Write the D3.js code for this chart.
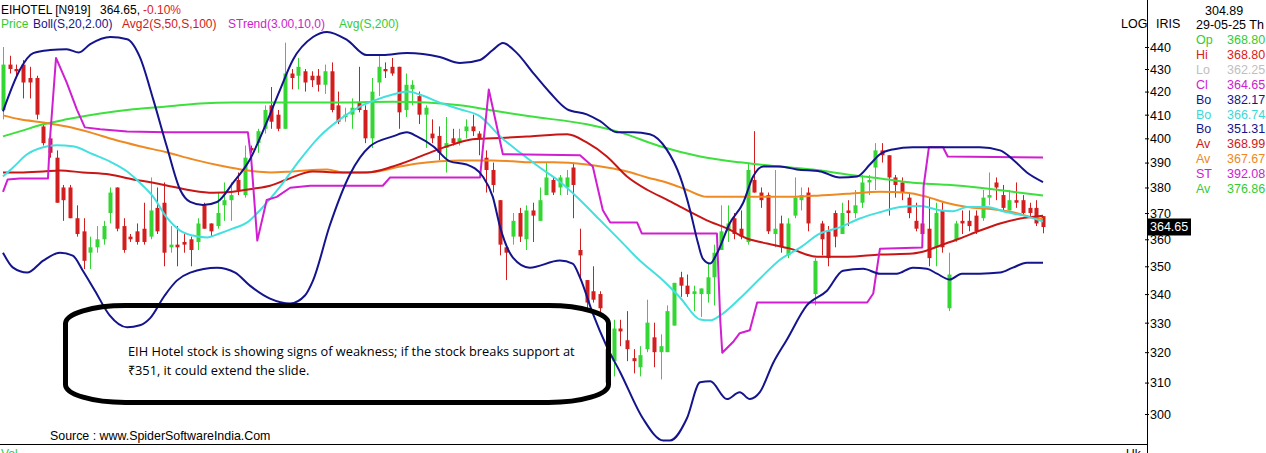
<!DOCTYPE html>
<meta charset="utf-8">
<style>
    body { margin: 0; background: #fff; }
    svg { display: block; }
    text { font-family: "Liberation Sans", Arial, sans-serif; }
</style>
<svg width="1266" height="453"></svg>
<script src="https://cdn.jsdelivr.net/npm/d3@7/dist/d3.min.js"></script>
<script>
    // daily candles, oldest first (last one is 29-05-25)
    var opens = [412, 432, 430, 432, 426, 426, 405, 400, 392, 380, 380, 368, 363, 355, 357, 360, 370, 380, 365, 361,
        363, 364, 361, 372, 374, 357, 358, 359, 360, 359, 373, 366, 365, 373, 375, 383, 377, 396, 398, 404,
        414, 410, 404, 428, 427, 429, 427, 427, 423, 429, 414, 409, 410, 415, 412, 400, 424, 430, 431, 431,
        412, 421, 418, 410, 402, 401, 396, 400, 398, 403, 405, 402, 392, 387, 375, 357, 361, 370, 360, 371,
        367, 377, 383, 380, 380, 388, 356, 345, 341, 340, 310, 317, 328, 324, 318, 315, 321, 325, 320, 320,
        329, 346, 343, 340, 340, 340, 346, 356, 363, 368, 364, 359, 383, 378, 377, 362, 366, 354, 369, 375,
        378, 340, 366, 363, 370, 362, 371, 370, 374, 382, 388, 395, 393, 384, 382, 376, 367, 366, 364, 357,
        371, 335, 360, 367, 367, 369, 368, 376, 382, 377, 371, 375, 375, 372, 372, 368.8];
    var highs = [440, 436, 432, 434, 431, 427, 406, 401, 395, 381, 381, 373, 368, 361, 365, 367, 380, 380, 368, 362,
        366, 374, 384, 380, 382, 365, 365, 362, 361, 368, 374, 366, 378, 382, 382, 386, 397, 397, 404, 414,
        422, 412, 442, 430, 435, 430, 429, 430, 432, 433, 420, 413, 417, 431, 414, 426, 436, 433, 435, 431,
        428, 425, 420, 414, 408, 405, 409, 404, 404, 408, 410, 403, 395, 390, 375, 358, 370, 372, 373, 374,
        380, 390, 384, 385, 387, 390, 364, 345, 350, 341, 321, 331, 331, 334, 321, 322, 338, 330, 326, 336,
        344, 348, 347, 343, 342, 351, 358, 373, 373, 370, 371, 390, 403, 380, 378, 387, 369, 368, 384, 380,
        380, 353, 367, 365, 371, 374, 375, 379, 385, 385, 398, 398, 393, 385, 384, 378, 374, 368, 376, 374,
        374, 355, 367, 371, 371, 371, 379, 386, 384, 381, 379, 382, 377, 374, 375, 368.8];
    var lows = [408, 428, 427, 417, 417, 408, 397, 392, 374, 367, 368, 361, 349, 349, 355, 358, 366, 363, 355, 359,
        358, 358, 360, 362, 350, 355, 350, 355, 350, 356, 364, 361, 364, 367, 367, 377, 376, 394, 394, 402,
        404, 403, 404, 421, 421, 420, 422, 420, 419, 411, 406, 407, 404, 411, 398, 396, 418, 426, 427, 404,
        409, 414, 406, 396, 398, 391, 386, 397, 397, 400, 401, 393, 378, 378, 354, 345, 358, 359, 356, 359,
        367, 377, 377, 377, 377, 368, 345, 335, 337, 333, 310, 312, 322, 317, 313, 312, 320, 315, 311, 320,
        329, 339, 339, 334, 332, 337, 336, 356, 359, 360, 360, 358, 378, 372, 362, 357, 355, 353, 368, 371,
        363, 336, 354, 350, 357, 362, 365, 368, 372, 377, 379, 390, 369, 376, 375, 368, 363, 361, 350, 350,
        355, 334, 359, 362, 363, 362, 367, 373, 375, 371, 371, 372, 369, 368, 365, 362.25];
    var closes = [432, 430, 429, 424, 424, 410, 398, 394, 374, 375, 368, 362, 352, 357, 360, 365, 378, 364, 356, 360,
        359, 359, 371, 363, 355, 358, 357, 358, 356, 366, 364, 363, 370, 375, 377, 379, 392, 395, 403, 412,
        407, 404, 428, 426, 431, 424, 425, 423, 429, 412, 407, 410, 413, 412, 400, 420, 431, 429, 428, 411,
        423, 423, 410, 413, 400, 394, 398, 398, 400, 405, 403, 400, 387, 381, 358, 355, 367, 361, 371, 369,
        375, 384, 378, 384, 384, 381, 354, 337, 338, 335, 321, 328, 327, 321, 317, 319, 330, 320, 322, 334,
        344, 343, 340, 341, 342, 346, 355, 363, 366, 362, 361, 387, 378, 375, 363, 364, 357, 366, 376, 377,
        366, 352, 360, 353, 361, 370, 370, 373, 382, 383, 395, 393, 384, 381, 378, 370, 364, 362, 353, 370,
        357, 347, 366, 366, 365, 363, 376, 377, 380, 372, 375, 374, 370, 370, 366, 364.65];

    // indicator lines as [candle index, price]
    var bollUpper = [[0, 411.4], [2.5, 429.6], [4.5, 437.2], [7, 438.6], [9.5, 439], [11.3, 437.5], [13, 441.3],
        [16, 444.6], [18.5, 443.6], [20.4, 435.4], [22.4, 416.5], [24.4, 396.7], [26.4, 379.1], [27.9, 374.3],
        [29.8, 373.1], [31.9, 374.3], [34.3, 381.9], [36.8, 391.3], [39.3, 406.7], [41.3, 420.9], [43.2, 434.1],
        [46.2, 444.6], [48.3, 447.0], [51.3, 443.2], [54.2, 436.3], [56.6, 436.3], [60.2, 437.2], [65.1, 435.4],
        [68.1, 432.7], [71.1, 434.1], [73.0, 438.6], [74.5, 441.8], [76.6, 437.2], [79.0, 428.3], [81.5, 419.6],
        [84.1, 412.3], [87.0, 410.1], [89.0, 407.2], [91.5, 402.5], [93.9, 402.5], [96.4, 401.7], [98.9, 395.4],
        [100.9, 384.4], [102.4, 371.1], [103.6, 358.4], [104.3, 352.8], [105.4, 351.0], [106.4, 354.7],
        [108.3, 366.0], [110.3, 373.9], [111.8, 384.4], [113.3, 388.4], [115.8, 388.4], [118.3, 387.2],
        [121.8, 386.4], [124.7, 384.0], [127.3, 384.4], [129.2, 389.2], [130.7, 393.4], [132.6, 395.4],
        [135.6, 396.3], [140.7, 396.3], [145.6, 396.3], [148.6, 395.0], [150.5, 391.3], [152.6, 386.0],
        [155, 382.17]];
    var bollMid = [[0, 384.4], [1.5, 388.0], [3.6, 393.4], [6.0, 396.3], [8.0, 397.1], [10.4, 396.7], [13.4, 393.4],
        [15.9, 390.5], [18.5, 386.4], [20.4, 381.9], [22.4, 376.3], [24.4, 368.3], [26.4, 363.3], [28.3, 361.4],
        [30.4, 360.7], [32.3, 362.2], [34.3, 364.1], [36.4, 366.4], [38.3, 371.1], [41.3, 380.3], [44.3, 391.3],
        [47.2, 400.8], [50.2, 408.0], [53.2, 413.5], [55.7, 416.5], [58.1, 418.7], [60.4, 420.0], [62.1, 418.7],
        [65.1, 415.2], [68.1, 412.3], [71.1, 409.3], [74.1, 400.8], [77.0, 394.2], [80.0, 388.0], [83.0, 382.3],
        [86.0, 375.1], [89.0, 367.2], [92.0, 359.5], [94.9, 352.1], [97.9, 345.9], [100.9, 338.8], [103.9, 331.1],
        [105.4, 330.8], [106.9, 332.5], [109.8, 338.4], [112.8, 345.5], [115.8, 352.4], [118.8, 356.9],
        [121.8, 362.2], [124.7, 364.5], [127.7, 367.9], [130.7, 370.3], [133.7, 372.3], [136.7, 372.7],
        [139.6, 371.1], [141.6, 370.7], [143.7, 372.3], [146.6, 372.3], [149.6, 370.3], [152.0, 369.1],
        [155, 366.74]];
    var bollLower = [[0, 355.0], [1.5, 349.5], [3.6, 347.7], [6.0, 352.1], [8.5, 355.0], [10.4, 353.9], [11.9, 348.4],
        [13.7, 341.2], [15.9, 332.5], [18.5, 328.4], [20.4, 329.1], [21.9, 331.5], [24.1, 339.5], [25.9, 344.8],
        [27.9, 347.7], [31.9, 349.5], [34.6, 347.7], [36.8, 343.0], [39.8, 338.4], [42.8, 336.7], [45.0, 339.5],
        [46.2, 344.8], [48.7, 365.2], [51.7, 385.2], [54.7, 396.7], [58.1, 400.8], [60.2, 402.5], [61.7, 400.8],
        [64.1, 396.7], [66.6, 390.5], [69.1, 389.2], [71.5, 384.4], [73.0, 376.3], [74.1, 364.5], [76.0, 353.2],
        [78.5, 349.5], [83.0, 352.1], [84.9, 351.0], [86.0, 345.9], [87.9, 333.2], [90.0, 321.8], [92.0, 313.3],
        [95.4, 298.5], [98.4, 291.8], [99.4, 291.8], [101.9, 298.5], [103.9, 310.1], [105.4, 310.4],
        [107.9, 304.7], [109.8, 306.9], [111.3, 304.7], [112.8, 306.9], [114.8, 316.5], [116.8, 324.1],
        [119.8, 336.0], [122.8, 341.2], [125.2, 348.4], [128.2, 349.1], [130.7, 347.3], [133.2, 347.3],
        [135.6, 349.5], [137.7, 349.1], [139.2, 347.3], [141.1, 345.2], [142.9, 347.3], [145.6, 347.3],
        [148.6, 347.7], [150.5, 349.5], [152.6, 351.3], [155, 351.31]];
    var avg50 = [[0, 386.0], [2.5, 386.0], [6.0, 386.4], [8.5, 386.8], [11.9, 386.0], [15.9, 385.2], [19.4, 383.2],
        [22.4, 381.9], [25.3, 380.3], [28.3, 378.7], [31.3, 377.9], [34.3, 378.3], [37.3, 379.5], [39.8, 380.7],
        [42.3, 383.2], [46.2, 386.4], [50.2, 386.0], [54.2, 386.0], [58.1, 388.4], [61.1, 391.3], [64.1, 394.6],
        [67.1, 397.5], [70.0, 399.6], [73.0, 400.0], [76.0, 400.4], [78.5, 400.8], [84.1, 401.7], [87.0, 398.3],
        [90.0, 392.5], [93.0, 384.4], [96.0, 379.1], [99.0, 375.1], [101.9, 371.1], [104.9, 367.2], [107.9, 364.1],
        [110.9, 360.3], [113.9, 358.4], [117.3, 356.5], [121.3, 353.5], [125.8, 353.5], [130.7, 354.3],
        [135.6, 354.7], [137.7, 355.8], [139.6, 357.6], [142.6, 360.3], [145.6, 363.3], [148.6, 366.0],
        [151.6, 367.9], [155, 368.99]];
    var avg100 = [[0, 409.7], [2.5, 408.0], [6.0, 406.7], [9.5, 405.0], [13.0, 402.5], [16.4, 399.6], [20.4, 396.7],
        [24.4, 394.2], [28.3, 391.3], [32.3, 388.8], [36.4, 386.8], [39.8, 386.0], [43.2, 386.4], [48.3, 387.2],
        [50.7, 386.0], [53.2, 386.0], [55.7, 386.4], [59.2, 388.4], [62.1, 389.7], [65.1, 390.5], [68.1, 390.9],
        [73.0, 390.9], [76.0, 390.5], [78.5, 390.1], [82.0, 390.1], [87.0, 389.2], [90.0, 388.0], [93.0, 386.4],
        [96.0, 384.0], [99.0, 381.9], [101.9, 379.1], [104.9, 376.3], [108.8, 376.3], [115.8, 376.3],
        [120.7, 376.7], [125.8, 377.5], [130.7, 378.3], [134.7, 377.9], [137.7, 376.3], [140.7, 373.9],
        [143.7, 372.3], [147.5, 371.5], [150.5, 370.3], [153.5, 368.3], [155, 367.67]];
    var avg200 = [[0, 400.8], [2.5, 402.9], [6.0, 405.9], [9.5, 408.0], [14.5, 410.5], [19.4, 412.3], [24.4, 413.5],
        [29.4, 414.8], [34.3, 415.2], [39.8, 415.2], [48.3, 415.2], [58.1, 415.6], [63.2, 415.2], [68.1, 414.0],
        [73.0, 411.8], [78.5, 409.3], [87.0, 405.9], [92.0, 402.5], [97.9, 396.7], [103.9, 392.5], [109.8, 390.1],
        [115.8, 388.4], [120.7, 387.2], [125.8, 385.2], [130.7, 383.6], [135.6, 381.9], [140.7, 381.1],
        [145.6, 379.9], [150.5, 378.3], [155, 376.86]];
    var sTrend = [[0, 378.3], [0.7, 383.2], [2.5, 383.6], [6.7, 383.6], [7.0, 399.6], [7.9, 435.0], [9.5, 423.9],
        [11.0, 412.3], [12.2, 404.6], [14.5, 403.8], [18.5, 402.9], [24.4, 402.5], [36.5, 402.5], [37.0, 391.3],
        [37.9, 359.5], [38.7, 368.3], [39.3, 375.1], [40.8, 376.3], [42.8, 379.9], [45.8, 380.7], [56.6, 380.7],
        [57.7, 384.0], [71.1, 384.0], [71.5, 395.4], [72.4, 420.9], [74.5, 393.4], [86.0, 393.0], [87.9, 388.4],
        [89.4, 371.1], [90.5, 366.4], [94.5, 366.4], [95.2, 362.2], [106.4, 362.2], [106.9, 330.8], [107.2, 319.8],
        [108.8, 323.4], [109.8, 326.4], [111.3, 327.4], [112.4, 337.0], [128.8, 337.0], [129.7, 340.2],
        [130.7, 356.5], [137.0, 356.9], [137.2, 380.3], [138.0, 396.3], [140.1, 396.3], [140.8, 392.5],
        [155, 392.08]];

    var priceTicks = d3.range(300, 450, 10);
    var infoLabels = ["Op", "Hi", "Lo", "Cl", "Bo", "Bo", "Bo", "Av", "Av", "ST", "Av"];
    var infoValues = ["368.80", "368.80", "362.25", "364.65", "382.17", "366.74", "351.31", "368.99", "367.67", "392.08", "376.86"];
    var infoColors = ["#33cc33", "#dd2020", "#c0c0c0", "#cc22cc", "#14148c", "#3cd8d8", "#14148c", "#d01818", "#ee8822", "#cc22cc", "#33cc33"];

    var svg = d3.select("svg");

    var x = d3.scaleLinear().domain([0, 155]).range([3, 1043]);
    var y = d3.scaleLog().domain([300, 440]).range([414, 47]);

    var green = "#33d633", red = "#d21e1e";

    var plot = svg.append("g");

    // candles
    var idx = d3.range(opens.length);
    plot.selectAll(".wick")
        .data(idx)
        .enter().append("line")
        .attr("x1", function(i) { return Math.round(x(i)) + 0.5; })
        .attr("x2", function(i) { return Math.round(x(i)) + 0.5; })
        .attr("y1", function(i) { return y(highs[i]); })
        .attr("y2", function(i) { return y(lows[i]); })
        .style("stroke", function(i) { return closes[i] >= opens[i] ? green : red; })
        .style("stroke-width", 1);

    plot.selectAll(".body")
        .data(idx)
        .enter().append("rect")
        .attr("x", function(i) { return Math.round(x(i)) - 1.5; })
        .attr("width", 4)
        .attr("y", function(i) { return y(Math.max(opens[i], closes[i])); })
        .attr("height", function(i) { return Math.max(1.5, Math.abs(y(opens[i]) - y(closes[i]))); })
        .style("fill", function(i) { return closes[i] >= opens[i] ? green : red; });

    var smooth = d3.line()
        .x(function(d) { return x(d[0]); })
        .y(function(d) { return y(d[1]); })
        .curve(d3.curveMonotoneX);

    var straight = d3.line()
        .x(function(d) { return x(d[0]); })
        .y(function(d) { return y(d[1]); });

    function addLine(data, gen, color) {
        plot.append("path")
            .datum(data)
            .attr("d", gen)
            .style("fill", "none")
            .style("stroke", color)
            .style("stroke-width", 2)
            .style("stroke-linejoin", "round");
    }

    addLine(avg200, smooth, "#3de03d");
    addLine(avg100, smooth, "#ef8a22");
    addLine(avg50, smooth, "#c81616");
    addLine(bollMid, smooth, "#44e0e0");
    addLine(sTrend, straight, "#d01fd0");
    addLine(bollUpper, smooth, "#14148c");
    addLine(bollLower, smooth, "#14148c");

    // annotation box
    svg.append("rect")
        .attr("x", 65.5)
        .attr("y", 305.5)
        .attr("width", 543)
        .attr("height", 97)
        .attr("rx", 60)
        .attr("ry", 18)
        .style("fill", "none")
        .style("stroke", "#000")
        .style("stroke-width", 5);

    svg.append("text")
        .attr("x", 128)
        .attr("y", 356)
        .style("font-family", "'Open Sans', sans-serif")
        .style("font-size", "12.8px")
        .text("EIH Hotel stock is showing signs of weakness; if the stock breaks support at");

    svg.append("text")
        .attr("x", 128)
        .attr("y", 375)
        .style("font-family", "'Open Sans', sans-serif")
        .style("font-size", "12.8px")
        .text("₹351, it could extend the slide.");

    // header
    var head = svg.append("g").style("font-size", "12px");
    head.append("text").attr("x", 1).attr("y", 14).text("EIHOTEL [N919]");
    head.append("text").attr("x", 100).attr("y", 14).text("364.65,");
    head.append("text").attr("x", 143).attr("y", 14).style("fill", "#dd2020").text("-0.10%");
    head.append("text").attr("x", 1).attr("y", 28).style("fill", "#33cc33").text("Price");
    head.append("text").attr("x", 33).attr("y", 28).style("fill", "#14148c").text("Boll(S,20,2.00)");
    head.append("text").attr("x", 122).attr("y", 28).style("fill", "#d01818").text("Avg2(S,50,S,100)");
    head.append("text").attr("x", 228).attr("y", 28).style("fill", "#cc22cc").text("STrend(3.00,10,0)");
    head.append("text").attr("x", 339).attr("y", 28).style("fill", "#33cc33").text("Avg(S,200)");

    // source and bottom strip
    svg.append("text")
        .attr("x", 50)
        .attr("y", 440)
        .style("font-size", "12.4px")
        .text("Source : www.SpiderSoftwareIndia.Com");

    svg.append("line")
        .attr("x1", 0).attr("x2", 1147)
        .attr("y1", 444.5).attr("y2", 444.5)
        .style("stroke", "#000");

    svg.append("text").attr("x", 1).attr("y", 458).style("font-size", "12px").style("fill", "#33cc33").text("Vol");
    svg.append("text").attr("x", 1126).attr("y", 458).style("font-size", "12px").text("Uk");

    // price axis
    svg.append("line")
        .attr("x1", 1147.5).attr("x2", 1147.5)
        .attr("y1", 0).attr("y2", 453)
        .style("stroke", "#000");

    var axis = svg.append("g")
        .attr("transform", "translate(1145,0)")
        .call(d3.axisRight(y).tickValues(priceTicks).tickFormat(d3.format("d")).tickSize(4).tickPadding(1));
    axis.select(".domain").remove();
    axis.selectAll("text")
        .attr("dy", "0.35em")
        .style("font-family", "'Liberation Sans', Arial, sans-serif")
        .style("font-size", "12.5px");

    // last price marker
    var last = closes[closes.length - 1];
    svg.append("rect")
        .attr("x", 1148)
        .attr("y", y(last) - 8.5)
        .attr("width", 43)
        .attr("height", 17)
        .style("fill", "#000");
    svg.append("text")
        .attr("x", 1150)
        .attr("y", y(last) + 4.5)
        .style("fill", "#fff")
        .style("font-size", "12.5px")
        .text(d3.format(".2f")(last));

    // right info panel
    var side = svg.append("g").style("font-size", "12.5px");
    side.append("text").attr("x", 1121).attr("y", 28).text("LOG");
    side.append("text").attr("x", 1156).attr("y", 28).text("IRIS");
    side.append("text").attr("x", 1205).attr("y", 15).text("304.89");
    side.append("text").attr("x", 1196).attr("y", 29).text("29-05-25 Th");

    side.selectAll(".lab")
        .data(infoLabels)
        .enter().append("text")
        .attr("x", 1196)
        .attr("y", function(d, i) { return 44 + i * 14.9; })
        .style("fill", function(d, i) { return infoColors[i]; })
        .text(function(d) { return d; });

    side.selectAll(".val")
        .data(infoValues)
        .enter().append("text")
        .attr("x", 1227)
        .attr("y", function(d, i) { return 44 + i * 14.9; })
        .style("fill", function(d, i) { return infoColors[i]; })
        .text(function(d) { return d; });
</script>
